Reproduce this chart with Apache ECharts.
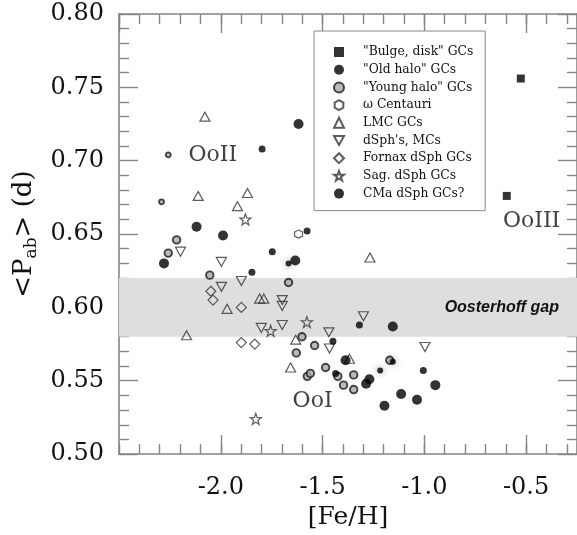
<!DOCTYPE html>
<html><head><meta charset="utf-8">
<script src="https://cdn.jsdelivr.net/npm/echarts@6/dist/echarts.min.js"></script>
<style>html,body{margin:0;padding:0;background:#fff}#c{width:577px;height:535px}</style>
</head><body><div id="c"></div>
<script>
// ---- data ----
const bulgeDisk = [[-0.526,0.756],[-0.595,0.676]];
const oldHaloLarge = [[-1.618,0.725],[-2.119,0.655],[-1.989,0.649],[-2.279,0.630],[-1.634,0.632],[-1.387,0.564],[-1.270,0.551],[-1.286,0.548],[-0.946,0.547],[-1.114,0.541],[-1.036,0.537],[-1.196,0.533],[-1.155,0.587]];
const oldHaloSmall = [[-1.797,0.708],[-1.576,0.652],[-1.747,0.638],[-1.847,0.624],[-1.319,0.588],[-1.449,0.577],[-1.005,0.557],[-1.436,0.555]];
const youngHaloLarge = [[-2.217,0.646],[-2.258,0.637],[-2.054,0.622],[-1.667,0.617],[-1.601,0.580],[-1.539,0.574],[-1.629,0.569],[-1.575,0.553],[-1.560,0.555],[-1.485,0.559],[-1.425,0.553],[-1.347,0.554],[-1.397,0.547],[-1.347,0.544],[-1.170,0.564]];
const youngHaloSmall = [[-2.258,0.704],[-2.291,0.672]];
const omegaCen = [[-1.618,0.650]];
const lmc = [[-2.078,0.730],[-2.111,0.676],[-1.869,0.678],[-1.918,0.669],[-1.969,0.599],[-2.168,0.581],[-1.809,0.606],[-1.789,0.606],[-1.632,0.578],[-1.657,0.559],[-1.267,0.634],[-1.368,0.565]];
const dsph = [[-2.198,0.638],[-1.997,0.631],[-1.997,0.614],[-1.899,0.618],[-1.698,0.605],[-1.698,0.601],[-1.801,0.586],[-1.698,0.588],[-1.469,0.583],[-1.466,0.572],[-1.299,0.594],[-0.997,0.573]];
const fornax = [[-2.049,0.611],[-2.038,0.605],[-1.899,0.600],[-1.899,0.576],[-1.833,0.575]];
const sag = [[-1.879,0.660],[-1.755,0.584],[-1.577,0.590],[-1.828,0.524]];
const cma = [[-1.667,0.630],[-1.217,0.557],[-1.155,0.563]];
const gapLow = 0.58, gapHigh = 0.62;
const regionLabels = ['OoII','OoI','OoIII'];
const regionX = [-2.039,-1.549,-0.473];
const regionY = [0.704,0.536,0.659];
const names = ['"Bulge, disk" GCs','"Old halo" GCs','"Young halo" GCs','\u03c9 Centauri','LMC GCs',"dSph's, MCs",'Fornax dSph GCs','Sag. dSph GCs','CMa dSph GCs?'];
const xMin = -2.5, xMax = -0.25, yMin = 0.5, yMax = 0.8;

const SERIF = 'DejaVu Serif';
const AX = '#858585';
const HEX = 'path://M0,-10 L8.66,-5 L8.66,5 L0,10 L-8.66,5 L-8.66,-5 Z';
const STAR = 'path://M0,-10 L2.35,-3.24 L9.51,-3.09 L3.8,1.24 L5.88,8.09 L0,4 L-5.88,8.09 L-3.8,1.24 L-9.51,-3.09 L-2.35,-3.24 Z';
const DOWN = 'path://M0,0 L10,0 L5,9 Z';
const open = {color:'rgba(0,0,0,0)', borderColor:'#333', borderWidth:1.2};

function xAxis(pos, interval, len, main) {
  return {type:'value', position:pos, min:xMin, max:xMax, interval:interval, gridIndex:0,
    axisLine:{show:main, lineStyle:{color:AX, width:1.6}},
    axisTick:{show:true, inside:true, length:len, lineStyle:{color:AX, width:1.4}},
    axisLabel:{show: main && pos==='bottom' && interval===0.5, showMinLabel:false, showMaxLabel:false, margin:22,
      formatter:v=>v.toFixed(1), fontFamily:SERIF, fontSize:24, color:'#111'},
    splitLine:{show:false},
    name: (main && pos==='bottom') ? '[Fe/H]' : '', nameLocation:'middle', nameGap:48,
    nameTextStyle:{fontFamily:SERIF, fontSize:25, color:'#111'}};
}
function yAxis(pos, main) {
  return {type:'value', position:pos, min:yMin, max:yMax, interval:0.05,
    axisLine:{show:true, lineStyle:{color:AX, width:1.6}},
    axisTick:{show:true, inside:true, length:19, lineStyle:{color:AX, width:1.4}},
    minorTick:{show:true, splitNumber:5, length:10, lineStyle:{color:AX, width:1.4}},
    axisLabel:{show:main, margin:15, formatter:v=>v.toFixed(2), fontFamily:SERIF, fontSize:24, color:'#111'},
    splitLine:{show:false},
    name: main ? '<P{s|ab}> (d)' : '', nameLocation:'middle', nameGap:82, nameRotate:90,
    nameTextStyle:{fontFamily:SERIF, fontSize:26, color:'#111', lineHeight:30, verticalAlign:'top',
      rich:{s:{fontFamily:SERIF, fontSize:17, color:'#111', lineHeight:10, verticalAlign:'bottom'}}}};
}

const legendData = names.map((n,i)=> i===5 ? {name:n, icon:DOWN} : {name:n});

const chart = echarts.init(document.getElementById('c'));
chart.setOption({
  animation:false,
  backgroundColor:'#fff',
  grid:{left:119, right:-2, top:14, bottom:79, containLabel:false},
  xAxis:[xAxis('bottom',0.5,19,true), xAxis('bottom',0.1,10,false), xAxis('top',0.5,19,true), xAxis('top',0.1,10,false)],
  yAxis:[yAxis('left',true), yAxis('right',false)],
  legend:{orient:'vertical', left:314, top:31, padding:[15,12,11,19], itemWidth:10, itemHeight:10, itemGap:5.7,
    backgroundColor:'#fff', borderColor:'#888', borderWidth:1, data:legendData,
    textStyle:{fontFamily:SERIF, fontSize:12.3, lineHeight:12, color:'#111', padding:[0,0,0,14]}},
  series:[
    {type:'scatter', name:'_band', data:[], z:1, silent:true,
      markArea:{silent:true, itemStyle:{color:'#dedede'},
        label:{show:true, position:'insideRight', distance:18, formatter:'Oosterhoff gap',
          fontFamily:'Liberation Sans', fontStyle:'italic', fontWeight:'bold', fontSize:16, color:'#111'},
        data:[[{yAxis:gapLow},{yAxis:gapHigh}]]}},
    {type:'scatter', name:names[4], data:lmc, symbol:'triangle', symbolSize:[10,9], itemStyle:open, z:3},
    {type:'scatter', name:names[5], data:dsph, symbol:'triangle', symbolRotate:180, symbolSize:[10,9], itemStyle:open, z:3},
    {type:'scatter', name:names[6], data:fornax, symbol:'diamond', symbolSize:10, itemStyle:open, z:3},
    {type:'scatter', name:names[7], data:sag, symbol:STAR, symbolSize:11, itemStyle:open, z:3},
    {type:'scatter', name:names[3], data:omegaCen, symbol:HEX, symbolSize:8, itemStyle:open, z:3},
    {type:'scatter', name:names[2], data:youngHaloLarge, symbol:'circle', symbolSize:7.5, itemStyle:{color:'#a9a9a9', borderColor:'#1a1a1a', borderWidth:1.9}, z:4},
    {type:'scatter', name:names[2], data:youngHaloSmall, symbol:'circle', symbolSize:5, itemStyle:{color:'#a9a9a9', borderColor:'#1a1a1a', borderWidth:1.8}, z:4},
    {type:'scatter', name:names[8], data:cma, symbol:'circle', symbolSize:6, itemStyle:{color:'#000', shadowBlur:7, shadowColor:'rgba(0,0,0,0.55)'}, z:4},
    {type:'scatter', name:names[1], data:oldHaloLarge, symbol:'circle', symbolSize:10, itemStyle:{color:'#000'}, z:5},
    {type:'scatter', name:names[1], data:oldHaloSmall, symbol:'circle', symbolSize:7, itemStyle:{color:'#000'}, z:5},
    {type:'scatter', name:names[0], data:bulgeDisk, symbol:'rect', symbolSize:8, itemStyle:{color:'#000'}, z:5},
    {type:'scatter', name:'_txt', silent:true, z:6, symbolSize:1, itemStyle:{color:'rgba(0,0,0,0)'},
      label:{show:true, position:'inside', formatter:p=>p.name, fontFamily:SERIF, fontSize:22, color:'#111'},
      data:regionLabels.map((n,i)=>({name:n, value:[regionX[i], regionY[i]]}))}
  ]
});
</script></body></html>
